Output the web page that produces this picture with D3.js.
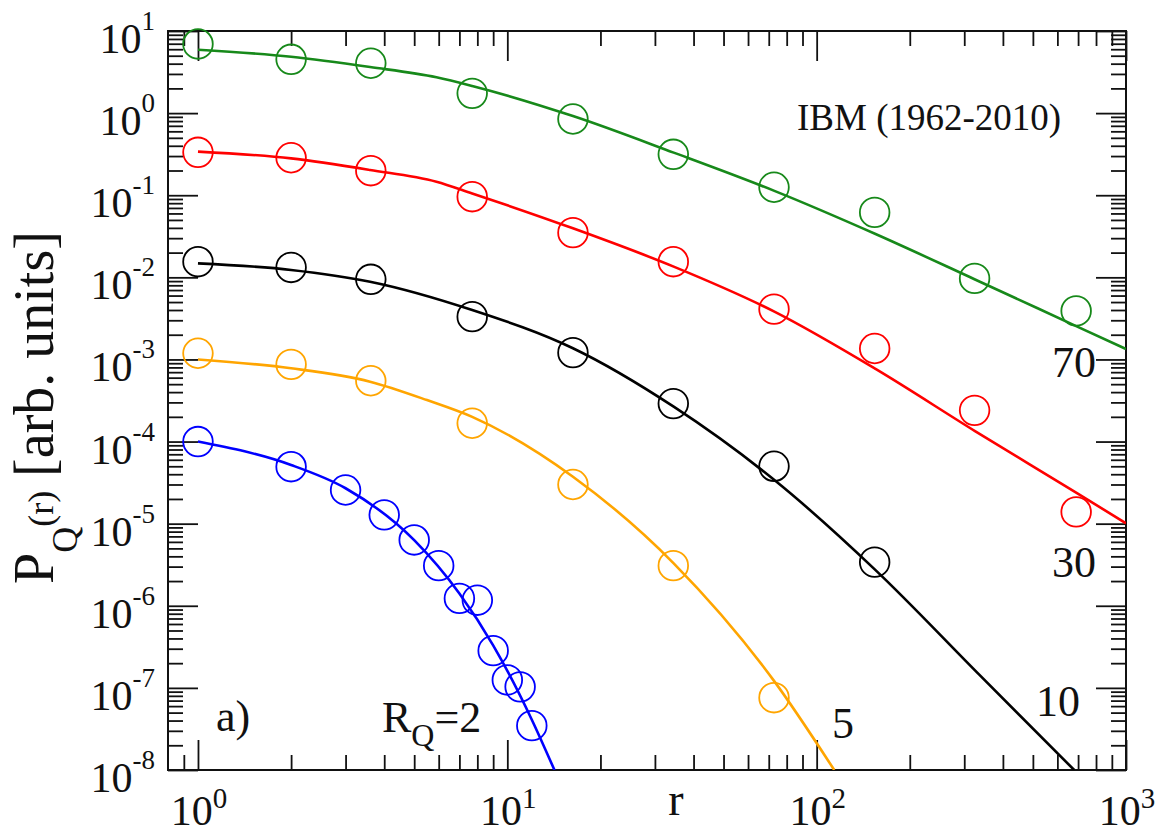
<!DOCTYPE html>
<html>
<head>
<meta charset="utf-8">
<script src="https://cdn.jsdelivr.net/npm/d3@7"></script>
<style>
  html, body { margin: 0; padding: 0; background: #fff; }
  svg { display: block; }
  text { font-family: "Liberation Serif", "DejaVu Serif", serif; fill: #111; }
</style>
</head>
<body>
<svg id="chart" width="1157" height="835"></svg>
<script>
// Binned distances (circles) for R_Q = 5, 10, 30, 70
const rBins = [1, 2, 3.62, 7.7, 16.3, 34.4, 72.8, 154, 324, 690];
// R_Q = 2 uses every integer distance
const rBlue = [1, 2, 3, 4, 5, 6, 7, 8, 9, 10, 11, 12];

// Measured P_Q(r) (circles)
const pGreen  = [6.95, 4.52, 4.05, 1.74, 0.848, 0.315, 0.125, 0.0618, 0.0097, 0.0039];
const pRed    = [0.333, 0.286, 0.199, 0.096, 0.035, 0.0155, 0.0041, 0.00136, 2.4e-4, 1.39e-5];
const pBlack  = [0.0155, 0.0132, 0.00946, 0.00332, 0.00121, 2.9e-4, 5.0e-5, 3.4e-6];
const pOrange = [0.00119, 8.7e-4, 5.5e-4, 1.67e-4, 3.0e-5, 3.08e-6, 7.6e-8];
const pBlue   = [1.0e-4, 4.94e-5, 2.57e-5, 1.28e-5, 6.33e-6, 3.08e-6, 1.23e-6, 1.17e-6, 2.84e-7, 1.25e-7, 1.03e-7, 3.47e-8];

// Fitted curves
const fitGreenR  = [1, 2, 3.6, 5.9, 7.7, 16.3, 34.5, 73, 155, 325, 690, 1000];
const fitGreenP  = [5.9, 4.86, 3.64, 2.73, 2.14, 0.92, 0.33, 0.113, 0.0337, 0.00942, 0.00255, 0.00134];
const fitRedR    = [1, 2, 3.6, 5.9, 7.7, 16.3, 34.5, 73, 155, 325, 690, 1000];
const fitRedP    = [0.34, 0.281, 0.203, 0.146, 0.105, 0.0395, 0.0135, 0.00382, 7.66e-4, 1.34e-4, 2.39e-5, 1.01e-5];
const fitBlackR  = [1, 2, 3.6, 7.7, 16.3, 34.5, 73, 155, 336, 680];
const fitBlackP  = [0.0148, 0.0123, 0.00885, 0.0040, 0.00137, 2.66e-4, 3.4e-5, 2.72e-6, 1.44e-7, 1e-8];
const fitOrangeR = [1, 2, 3.6, 5.5, 7.7, 16.3, 34.5, 73, 114];
const fitOrangeP = [1.0e-3, 7.8e-4, 5.36e-4, 3.2e-4, 2.0e-4, 3.73e-5, 3.29e-6, 1.2e-7, 1e-8];
const fitBlueR   = [1, 2, 3, 5, 7, 9, 12, 14.2];
const fitBlueP   = [1.0e-4, 5.18e-5, 2.7e-5, 6.3e-6, 1.41e-6, 3.3e-7, 4.1e-8, 1e-8];

// Axis ticks
const xMajor = [1, 10, 100, 1000];
const xTickExp = ["0", "1", "2", "3"];
const yMajorExp = [-8, -7, -6, -5, -4, -3, -2, -1, 0, 1];

// Curve labels
const curveLabels = ["70", "30", "10", "5"];

const W = 1157, H = 835;
const margin = { left: 168, top: 31, right: 31, bottom: 65 };

const svg = d3.select("#chart");

const x = d3.scaleLog().domain([0.8, 1000]).range([margin.left, W - margin.right]);
const y = d3.scaleLog().domain([1e-8, 10]).range([H - margin.bottom, margin.top]);

// minor tick values
const xMinor = [0.9];
[1, 10, 100].forEach(d => { for (let k = 2; k <= 9; k++) xMinor.push(k * d); });
const yMajor = yMajorExp.map(e => Math.pow(10, e));
const yMinor = [];
yMajorExp.slice(0, -1).forEach(e => { for (let k = 2; k <= 9; k++) yMinor.push(k * Math.pow(10, e)); });

const plotBottom = y.range()[0], plotTop = y.range()[1];
const plotLeft = x.range()[0], plotRight = x.range()[1];

// Clip for fit lines
svg.append("clipPath").attr("id", "plot-clip")
  .append("rect")
  .attr("x", plotLeft).attr("y", plotTop)
  .attr("width", plotRight - plotLeft)
  .attr("height", plotBottom - plotTop);

// Axes: ticks pointing inward on all four sides
function drawAxis(axis, tx, ty) {
  const g = svg.append("g").attr("transform", `translate(${tx},${ty})`).call(axis);
  g.select(".domain").remove();
  g.selectAll(".tick line").attr("stroke", "#111").attr("stroke-width", 1.8);
  return g;
}
drawAxis(d3.axisBottom(x).tickValues(xMajor).tickSize(-30).tickFormat(""), 0, plotBottom);
drawAxis(d3.axisBottom(x).tickValues(xMinor).tickSize(-15).tickFormat(""), 0, plotBottom);
drawAxis(d3.axisTop(x).tickValues(xMajor).tickSize(-30).tickFormat(""), 0, plotTop);
drawAxis(d3.axisTop(x).tickValues(xMinor).tickSize(-15).tickFormat(""), 0, plotTop);
drawAxis(d3.axisLeft(y).tickValues(yMajor).tickSize(-30).tickFormat(""), plotLeft, 0);
drawAxis(d3.axisLeft(y).tickValues(yMinor).tickSize(-15).tickFormat(""), plotLeft, 0);
drawAxis(d3.axisRight(y).tickValues(yMajor).tickSize(-30).tickFormat(""), plotRight, 0);
drawAxis(d3.axisRight(y).tickValues(yMinor).tickSize(-15).tickFormat(""), plotRight, 0);

// Frame
svg.append("rect")
  .attr("x", plotLeft).attr("y", plotTop)
  .attr("width", plotRight - plotLeft).attr("height", plotBottom - plotTop)
  .attr("fill", "none").attr("stroke", "#111").attr("stroke-width", 2);

// Tick labels
yMajorExp.forEach(e => {
  const t = svg.append("text")
    .attr("x", 155).attr("y", y(Math.pow(10, e)) + 22)
    .attr("text-anchor", "end").attr("font-size", 42);
  t.append("tspan").text("10");
  t.append("tspan").attr("font-size", 27).attr("dy", -23).text(String(e));
});
xMajor.forEach((d, i) => {
  const t = svg.append("text")
    .attr("x", x(d) + 1).attr("y", 825)
    .attr("text-anchor", "middle").attr("font-size", 42);
  t.append("tspan").text("10");
  t.append("tspan").attr("font-size", 29).attr("dy", -17).text(xTickExp[i]);
});

// Axis titles
svg.append("text").attr("x", 676).attr("y", 815)
  .attr("text-anchor", "middle").attr("font-size", 46).text("r");

const yt = svg.append("text")
  .attr("transform", "translate(53,584) rotate(-90)")
  .attr("font-size", 56);
yt.append("tspan").text("P");
yt.append("tspan").attr("font-size", 36).attr("dy", 24).text("Q");
yt.append("tspan").attr("font-size", 36).attr("dy", -24).text("(r)");
yt.append("tspan").text(" [arb. units]");

// Series
const series = [
  { color: "#17891a", r: rBins, p: pGreen, fr: fitGreenR, fp: fitGreenP },
  { color: "#ff0000", r: rBins, p: pRed, fr: fitRedR, fp: fitRedP },
  { color: "#000000", r: rBins.slice(0, pBlack.length), p: pBlack, fr: fitBlackR, fp: fitBlackP },
  { color: "#ffa500", r: rBins.slice(0, pOrange.length), p: pOrange, fr: fitOrangeR, fp: fitOrangeP },
  { color: "#0000ff", r: rBlue, p: pBlue, fr: fitBlueR, fp: fitBlueP }
];

const line = d3.line()
  .x(d => x(d[0]))
  .y(d => y(d[1]))
  .curve(d3.curveMonotoneX);

series.forEach(s => {
  svg.append("path")
    .datum(d3.zip(s.fr, s.fp))
    .attr("clip-path", "url(#plot-clip)")
    .attr("fill", "none")
    .attr("stroke", s.color)
    .attr("stroke-width", 2.6)
    .attr("d", line);

  svg.append("g").selectAll("circle")
    .data(d3.zip(s.r, s.p))
    .join("circle")
      .attr("cx", d => x(d[0]))
      .attr("cy", d => y(d[1]))
      .attr("r", 14.8)
      .attr("fill", "none")
      .attr("stroke", s.color)
      .attr("stroke-width", 1.8);
});

// Annotations
svg.append("text").attr("x", 797).attr("y", 130).attr("font-size", 37).text("IBM (1962-2010)");
svg.append("text").attr("x", 1096).attr("y", 377).attr("text-anchor", "end").attr("font-size", 44).text(curveLabels[0]);
svg.append("text").attr("x", 1096).attr("y", 577).attr("text-anchor", "end").attr("font-size", 44).text(curveLabels[1]);
svg.append("text").attr("x", 1080).attr("y", 716).attr("text-anchor", "end").attr("font-size", 44).text(curveLabels[2]);
svg.append("text").attr("x", 832).attr("y", 738).attr("font-size", 44).text(curveLabels[3]);
svg.append("text").attr("x", 216).attr("y", 731).attr("font-size", 44).text("a)");

const rq = svg.append("text").attr("x", 382).attr("y", 732).attr("font-size", 44);
rq.append("tspan").text("R");
rq.append("tspan").attr("font-size", 32).attr("dy", 14).text("Q");
rq.append("tspan").attr("dy", -14).text("=2");
</script>
</body>
</html>
